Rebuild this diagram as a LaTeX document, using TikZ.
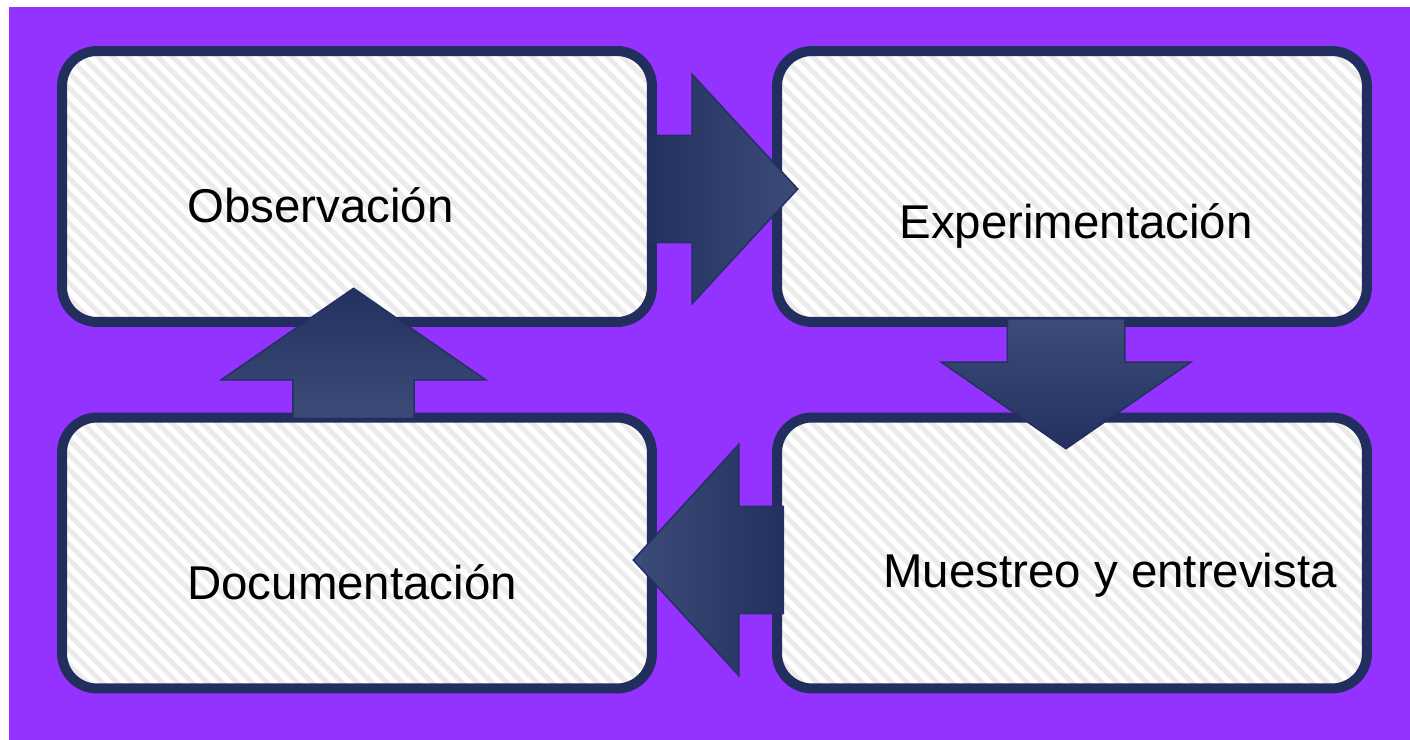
\documentclass[tikz,border=0pt]{standalone}
\usepackage{fontspec}
\setmainfont{Liberation Sans}
\usetikzlibrary{shapes.arrows,shadows}

\begin{document}
\begin{tikzpicture}[x=0.02cm,y=-0.02cm]

\definecolor{bgpurple}{RGB}{148, 51, 255}
\definecolor{boxnavy}{RGB}{34, 47, 94}
\definecolor{stripegrey}{RGB}{235, 235, 235}
\definecolor{arrowdark}{RGB}{36, 49, 96}
\definecolor{arrowlight}{RGB}{60, 75, 120}

% Fill background
\useasboundingbox (0,0) rectangle (1410,740);
\fill[bgpurple] (9,7) rectangle (1410,740);

\tikzset{
    stage box/.style={
        draw=boxnavy, line width=0.2cm, rounded corners=0.7cm, fill=white,
        minimum width=11.8cm, minimum height=5.42cm,
        drop shadow={shadow xshift=0.06cm, shadow yshift=-0.08cm, opacity=0.25, fill=black},
        path picture={
            \foreach \k in {-20,...,62}
                \draw[stripegrey, line width=0.1cm]
                    ([xshift=\k*0.3cm-6cm]path picture bounding box.north west) -- ++(8cm,-8cm);
        }
    },
    stage text/.style={
        font=\fontsize{27}{32}\selectfont, anchor=base west, inner sep=0pt
    },
    flow arrow/.style={
        single arrow, draw=arrowdark, line width=0.03cm, inner xsep=0pt,
        anchor=tail, rotate=#1
    }
}

% 4 STAGES
\node[stage box] (Obs) at (357,186.5) {};
\node[stage box] (Exp) at (1072,186.5) {};
\node[stage box] (Doc) at (357,553) {};
\node[stage box] (Mue) at (1072,553) {};

\node[stage text] (ObsText) at (187,222) {Observación};
\node[stage text] (ExpText) at (899,238) {Experimentación};
\node[stage text] (DocText) at (187,599) {Documentación};
\node[stage text] (MueText) at (883,587) {Muestreo y entrevista};

% --- BLOCK ARROWS ---
\node[flow arrow=0, left color=arrowdark, right color=arrowlight,
      minimum height=3cm, inner ysep=1.06cm,
      single arrow head extend=1.22cm, single arrow tip angle=94.7] (ObsExp) at (647,189) {};
\node[flow arrow=-90, top color=arrowlight, bottom color=arrowdark,
      minimum height=2.6cm, inner ysep=1.16cm,
      single arrow head extend=1.32cm, single arrow tip angle=110.5] (ExpMue) at (1066,318) {};
\node[flow arrow=180, left color=arrowlight, right color=arrowdark,
      minimum height=3cm, inner ysep=1.06cm,
      single arrow head extend=1.24cm, single arrow tip angle=95.2] (MueDoc) at (784,560) {};
\node[flow arrow=90, top color=arrowdark, bottom color=arrowlight,
      minimum height=2.6cm, inner ysep=1.2cm,
      single arrow head extend=1.43cm, single arrow tip angle=110.6] (DocObs) at (353.5,419) {};

\end{tikzpicture}
\end{document}
